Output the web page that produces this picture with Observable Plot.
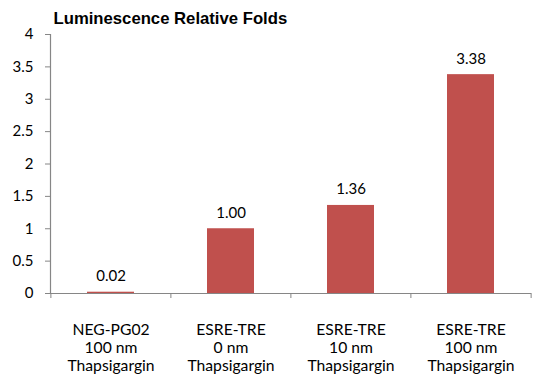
<!DOCTYPE html>
<html><head><meta charset="utf-8">
<script src="https://cdn.jsdelivr.net/npm/d3@7"></script>
<script src="https://cdn.jsdelivr.net/npm/@observablehq/plot@0.6"></script>
<style>body{margin:0;background:#fff}</style>
</head><body><div id="chart"></div>
<script>
const title = "Luminescence Relative Folds";
const constructs = ["NEG-PG02", "ESRE-TRE", "ESRE-TRE", "ESRE-TRE"];
const doses = ["100 nm", "0 nm", "10 nm", "100 nm"];
const treatment = "Thapsigargin";
const values = [0.02, 1.00, 1.36, 3.38];
const yTicks = [0, 0.5, 1, 1.5, 2, 2.5, 3, 3.5, 4];

const data = constructs.map((c, i) => ({label: `${c}\n${doses[i]}\n${treatment}`, value: values[i]}));
const labels = data.map(d => d.label);
const axisColor = "#868686";
const font = "Lato, sans-serif";
const W = 537, ML = 50, MR = 6;
const half = (W - ML - MR) / labels.length / 2;

const plot = Plot.plot({
  width: W, height: 378, marginLeft: ML, marginRight: MR, marginTop: 34, marginBottom: 85,
  style: {fontFamily: font, fontSize: "15px", color: "#000", background: "#fff", overflow: "visible"},
  x: {domain: labels, paddingInner: 0.61, paddingOuter: 0.305, label: null},
  y: {domain: [0, 4], label: null},
  marks: [
    Plot.barY(data, {x: "label", y: "value", fill: "#C0504D"}),
    Plot.ruleY([0], {stroke: axisColor, strokeWidth: 1.2}),
    Plot.frame({anchor: "left", stroke: axisColor, strokeWidth: 1.2}),
    Plot.axisY({ticks: yTicks, tickSize: 5, tickPadding: 12, stroke: axisColor, fill: "#000", tickFormat: d => String(d), label: null}),
    Plot.axisX({tickSize: 5, dx: -half, stroke: axisColor, tickFormat: () => "", label: null}),
    Plot.axisX({ticks: [labels[labels.length - 1]], tickSize: 5, dx: half, stroke: axisColor, tickFormat: () => "", label: null}),
    Plot.axisX({tickSize: 0, tickPadding: 29, fontSize: 15.7, lineHeight: 1.15, fill: "#000", label: null}),
    Plot.text(data, {x: "label", y: "value", text: d => d.value.toFixed(2), lineAnchor: "bottom", dy: -11, fill: "#000"}),
    Plot.text([title], {frameAnchor: "top-left", dx: 3, dy: -11, lineAnchor: "bottom", textAnchor: "start",
      fontFamily: "Liberation Sans, Arial, sans-serif", fontWeight: "bold", fontSize: 16.7, fill: "#000"})
  ]
});
document.getElementById("chart").appendChild(plot);
</script>
</body></html>
